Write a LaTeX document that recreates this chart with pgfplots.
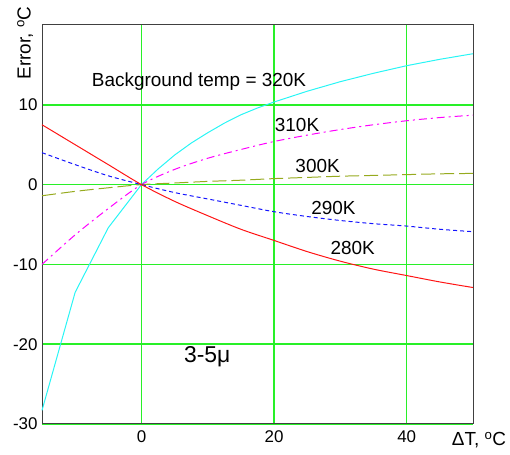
\documentclass[border=0pt]{standalone}
\usepackage{fontspec}
\setmainfont{Liberation Sans}
\usepackage{pgfplots}
\pgfplotsset{compat=1.18}
\usetikzlibrary{calc}
\definecolor{gridgreen}{RGB}{40,240,40}
\definecolor{c320}{RGB}{40,245,245}
\definecolor{c310}{RGB}{255,0,255}
\definecolor{c300}{RGB}{150,170,30}
\definecolor{c290}{RGB}{20,20,255}
\definecolor{c280}{RGB}{255,20,20}
\newcommand{\lab}{\fontsize{19}{22}\selectfont}
\begin{document}
\begin{tikzpicture}
\begin{axis}[
  scale only axis, width=431bp, height=399bp,
  xmin=-15, xmax=50, ymin=-30, ymax=20,
  xtick={0,20,40}, ytick={-30,-20,-10,0,10},
  major tick length=0,
  grid=major, major grid style={gridgreen, line width=1.6bp},
  axis line style={black!75, line width=1pt},
  tick label style={font=\fontsize{17}{20}\selectfont},
  /pgf/number format/assume math mode=true,
  xticklabel style={yshift=-3bp},
  yticklabel style={xshift=-1bp},
  clip=false,
  every axis plot/.append style={line width=1pt},
]
% 320K
\addplot[c320] coordinates {(-15,-28.3)(-10,-13.5)(-5,-5.4)(0,0)(2.5,1.95)(5,3.7)(7.5,5.2)(10,6.5)(12.5,7.7)(15,8.75)(17.5,9.6)(20,10.35)(25,11.7)(30,12.9)(35,13.95)(40,14.9)(45,15.7)(50,16.4)};
% 310K
\addplot[c310, smooth, tension=0.5, dash pattern=on 8bp off 4bp on 2bp off 4bp] coordinates {(-15,-10)(-10,-6.3)(-5,-3.0)(0,0)(5,1.9)(10,3.3)(15,4.4)(20,5.4)(25,6.2)(30,6.9)(35,7.5)(40,8.0)(45,8.4)(50,8.7)};
% 300K
\addplot[c300, smooth, tension=0.5, dash pattern=on 14bp off 5bp] coordinates {(-15,-1.4)(-10,-0.85)(-5,-0.4)(0,0)(5,0.2)(10,0.4)(15,0.55)(20,0.75)(25,0.9)(30,1.05)(35,1.15)(40,1.25)(45,1.35)(50,1.4)};
% 290K
\addplot[c290, smooth, tension=0.5, dash pattern=on 4bp off 3bp] coordinates {(-15,4.0)(-10,2.5)(-5,1.1)(0,0)(5,-1.0)(10,-1.8)(15,-2.6)(20,-3.4)(25,-4.0)(30,-4.5)(35,-4.9)(40,-5.2)(45,-5.6)(50,-5.9)};
% 280K
\addplot[c280, smooth, tension=0.5] coordinates {(-15,7.5)(-10,5.0)(-5,2.5)(0,0)(5,-2.1)(10,-3.9)(15,-5.6)(20,-7.0)(25,-8.4)(30,-9.6)(35,-10.6)(40,-11.4)(45,-12.2)(50,-12.9)};
\node[anchor=west, inner sep=0, font=\lab] at (axis cs:-7.5,12.9) {Background temp = 320K};
\node[anchor=west, inner sep=0, font=\lab] at (axis cs:20.1,7.5) {310K};
\node[anchor=west, inner sep=0, font=\lab] at (axis cs:23.2,2.3) {300K};
\node[anchor=west, inner sep=0, font=\lab] at (axis cs:25.6,-2.9) {290K};
\node[anchor=west, inner sep=0, font=\lab] at (axis cs:28.5,-8.0) {280K};
\node[anchor=west, inner sep=0, font=\fontsize{23}{26}\selectfont] at (axis cs:6.4,-21.6) {3-5μ};
\node[rotate=90, inner sep=0, font=\lab] at (rel axis cs:-0.039,0.955) {Error, \textsuperscript{o}C};
\node[inner sep=0, font=\lab] at (rel axis cs:1.014,-0.04) {ΔT, \textsuperscript{o}C};
\end{axis}
\path ($(current axis.south west)+(-42bp,-31bp)$) rectangle ($(current axis.north east)+(37bp,25bp)$);
\end{tikzpicture}
\end{document}
